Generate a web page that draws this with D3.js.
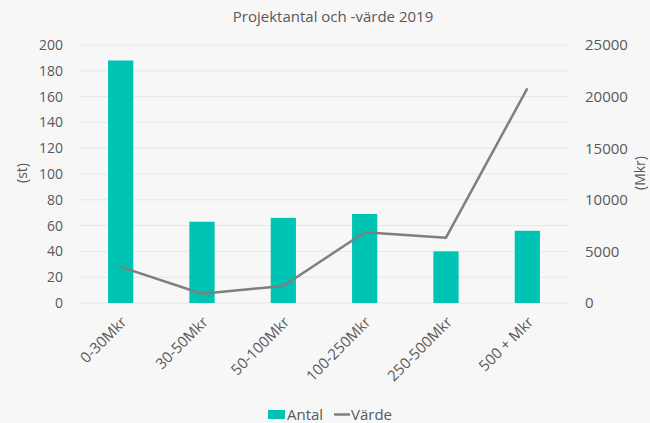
<!DOCTYPE html>
<html><head><meta charset="utf-8">
<script src="https://cdn.jsdelivr.net/npm/d3@7"></script>
<style>
html,body{margin:0;padding:0;background:#f7f7f7;}
svg{display:block;}
text{font-family:"Open Sans",sans-serif;fill:#595959;}
</style></head>
<body>
<svg id="chart" width="650" height="423"></svg>
<script>
const categories = ["0-30Mkr","30-50Mkr","50-100Mkr","100-250Mkr","250-500Mkr","500 + Mkr"];
const antal = [188, 63, 66, 69, 40, 56];
const varde = [3500, 900, 1650, 6850, 6330, 20800];
const leftTicks = [0,20,40,60,80,100,120,140,160,180,200];
const rightTicks = [0,5000,10000,15000,20000,25000];
const title = "Projektantal och -värde 2019";

const svg = d3.select("#chart");
const W = 650, H = 423;
const m = {left:80, right:82, top:45, bottom:120};
const x = d3.scaleBand().domain(categories).range([m.left, W - m.right]).paddingInner(0.69).paddingOuter(0.345);
const yL = d3.scaleLinear().domain([0,200]).range([H - m.bottom, m.top]);
const yR = d3.scaleLinear().domain([0,25000]).range([H - m.bottom, m.top]);

svg.append("rect").attr("width",W).attr("height",H).attr("fill","#f7f7f7");

// gridlines
svg.append("g").selectAll("line").data(leftTicks).join("line")
  .attr("x1", m.left).attr("x2", W - m.right)
  .attr("y1", d => yL(d)).attr("y2", d => yL(d))
  .attr("stroke", "#e3e6e9").attr("stroke-width", 1);

// left axis
const gL = svg.append("g").attr("transform", `translate(${m.left},0)`)
  .call(d3.axisLeft(yL).tickValues(leftTicks).tickSize(0).tickPadding(17));
gL.select(".domain").remove();
gL.selectAll("text").style("font-size","14px").style("font-family","Open Sans").attr("fill","#595959");

// right axis
const gR = svg.append("g").attr("transform", `translate(${W - m.right},0)`)
  .call(d3.axisRight(yR).tickValues(rightTicks).tickFormat(d3.format("d")).tickSize(0).tickPadding(17));
gR.select(".domain").remove();
gR.selectAll("text").style("font-size","15px").style("font-family","Open Sans").attr("fill","#595959");

// bars
svg.append("g").selectAll("rect").data(antal).join("rect")
  .attr("x", (d,i) => x(categories[i]))
  .attr("width", x.bandwidth())
  .attr("y", d => yL(d))
  .attr("height", d => yL(0) - yL(d))
  .attr("fill", "#00c4b3");

// line
const line = d3.line().x((d,i) => x(categories[i]) + x.bandwidth()/2).y(d => yR(d));
svg.append("path").datum(varde).attr("d", line)
  .attr("fill","none").attr("stroke","#7f7f7f").attr("stroke-width",2.5).attr("stroke-linejoin","round");

// x labels
const gX = svg.append("g");
gX.selectAll("text").data(categories).join("text")
  .attr("transform", d => `translate(${x(d) + x.bandwidth()/2 + 7},${H - m.bottom + 20}) rotate(-45)`)
  .attr("text-anchor","end")
  .style("font-size","15px")
  .text(d => d);

// title
svg.append("text").attr("x", 333).attr("y", 22).attr("text-anchor","middle")
  .style("font-size","15px").text(title);

// axis titles
svg.append("text").attr("transform","translate(27,173) rotate(-90)").attr("text-anchor","middle")
  .style("font-size","14px").text("(st)");
svg.append("text").attr("transform","translate(645,173) rotate(-90)").attr("text-anchor","middle")
  .style("font-size","14px").text("(Mkr)");

// legend
const lg = svg.append("g");
lg.append("rect").attr("x",268).attr("y",410).attr("width",17).attr("height",9).attr("fill","#00c4b3");
lg.append("text").attr("x",287).attr("y",420).style("font-size","15px").text("Antal");
lg.append("line").attr("x1",334).attr("x2",350).attr("y1",414.5).attr("y2",414.5).attr("stroke","#7f7f7f").attr("stroke-width",2.5);
lg.append("text").attr("x",351).attr("y",420).style("font-size","15px").text("Värde");
</script>
</body></html>
